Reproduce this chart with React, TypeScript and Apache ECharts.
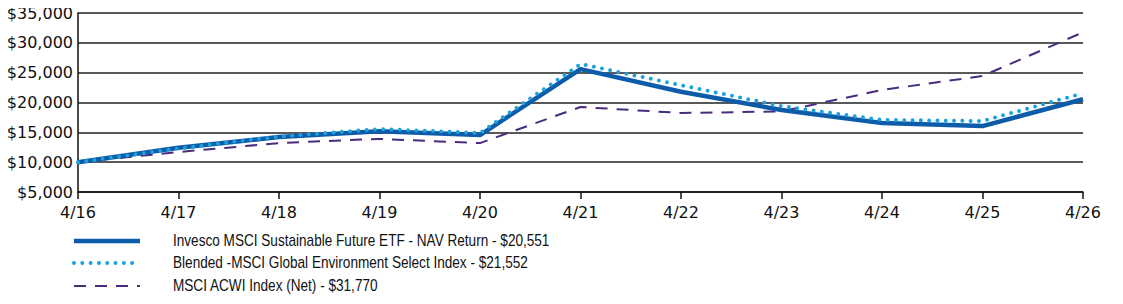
import React, { useEffect, useRef } from "react";
import * as echarts from "echarts";

const categories = ["4/16", "4/17", "4/18", "4/19", "4/20", "4/21", "4/22", "4/23", "4/24", "4/25", "4/26"];
const navReturn = [10000, 12400, 14200, 15200, 14550, 25600, 21800, 18750, 16550, 16050, 20551];
const blendedIndex = [10000, 12300, 14300, 15550, 14900, 26450, 22900, 19400, 17070, 16900, 21552];
const acwiIndex = [10000, 11700, 13200, 13900, 13200, 19250, 18240, 18500, 22100, 24440, 31770];

const legendLabels = [
  "Invesco MSCI Sustainable Future ETF - NAV Return - $20,551",
  "Blended -MSCI Global Environment Select Index - $21,552",
  "MSCI ACWI Index (Net) - $31,770",
];

const NAV_COLOR = "#0d5ca9";
const BLEND_COLOR = "#1ba1dc";
const ACWI_COLOR = "#4a2c7e";

export default function App() {
  const ref = useRef<HTMLDivElement>(null);

  useEffect(() => {
    if (!ref.current) return;
    const chart = echarts.init(ref.current, null, { renderer: "svg" });
    const axisFont = { fontFamily: "DejaVu Sans", fontSize: 16, color: "#111" };
    const rows = [241, 263, 286];
    const legendStyles = [
      { stroke: NAV_COLOR, lineWidth: 4.5 },
      { stroke: BLEND_COLOR, lineWidth: 4, lineDash: [0, 8.3], lineCap: "round" },
      { stroke: ACWI_COLOR, lineWidth: 2, lineDash: [12, 9] },
    ];
    chart.setOption({
      animation: false,
      grid: { left: 78, right: 40, top: 13, bottom: 112 },
      xAxis: {
        type: "category",
        data: categories,
        boundaryGap: false,
        axisLine: { show: true, lineStyle: { color: "#111", width: 1.5 } },
        axisTick: { show: true, length: 7, lineStyle: { color: "#111", width: 1.5 } },
        axisLabel: { ...axisFont, margin: 12 },
        splitLine: { show: false },
      },
      yAxis: {
        type: "value",
        min: 5000,
        max: 35000,
        interval: 5000,
        axisLine: { show: true, lineStyle: { color: "#111", width: 1.5 } },
        axisTick: { show: false },
        axisLabel: {
          ...axisFont,
          margin: 5,
          formatter: (v: number) => "$" + v.toLocaleString("en-US"),
        },
        splitLine: { show: true, lineStyle: { color: "#222", width: 1.5 } },
      },
      series: [
        {
          name: legendLabels[2],
          type: "line",
          data: acwiIndex,
          showSymbol: false,
          symbol: "none",
          lineStyle: { color: ACWI_COLOR, width: 2, type: [12, 9] },
        },
        {
          name: legendLabels[0],
          type: "line",
          data: navReturn,
          showSymbol: false,
          symbol: "none",
          lineStyle: { color: NAV_COLOR, width: 4.5 },
        },
        {
          name: legendLabels[1],
          type: "line",
          data: blendedIndex,
          showSymbol: false,
          symbol: "none",
          lineStyle: { color: BLEND_COLOR, width: 4, type: [0, 8.3], cap: "round" },
        },
      ],
      graphic: legendLabels.flatMap((label, i) => [
        {
          type: "line",
          shape: { x1: 74, y1: rows[i], x2: 140, y2: rows[i] },
          style: legendStyles[i],
        },
        {
          type: "text",
          x: 173,
          y: rows[i],
          scaleX: 0.85,
          style: {
            text: label,
            fontFamily: "Liberation Sans",
            fontSize: 16,
            fill: "#111",
            verticalAlign: "middle",
          },
        },
      ]),
    });
    return () => chart.dispose();
  }, []);

  return <div ref={ref} style={{ width: 1123, height: 304, margin: -8 }} />;
}
